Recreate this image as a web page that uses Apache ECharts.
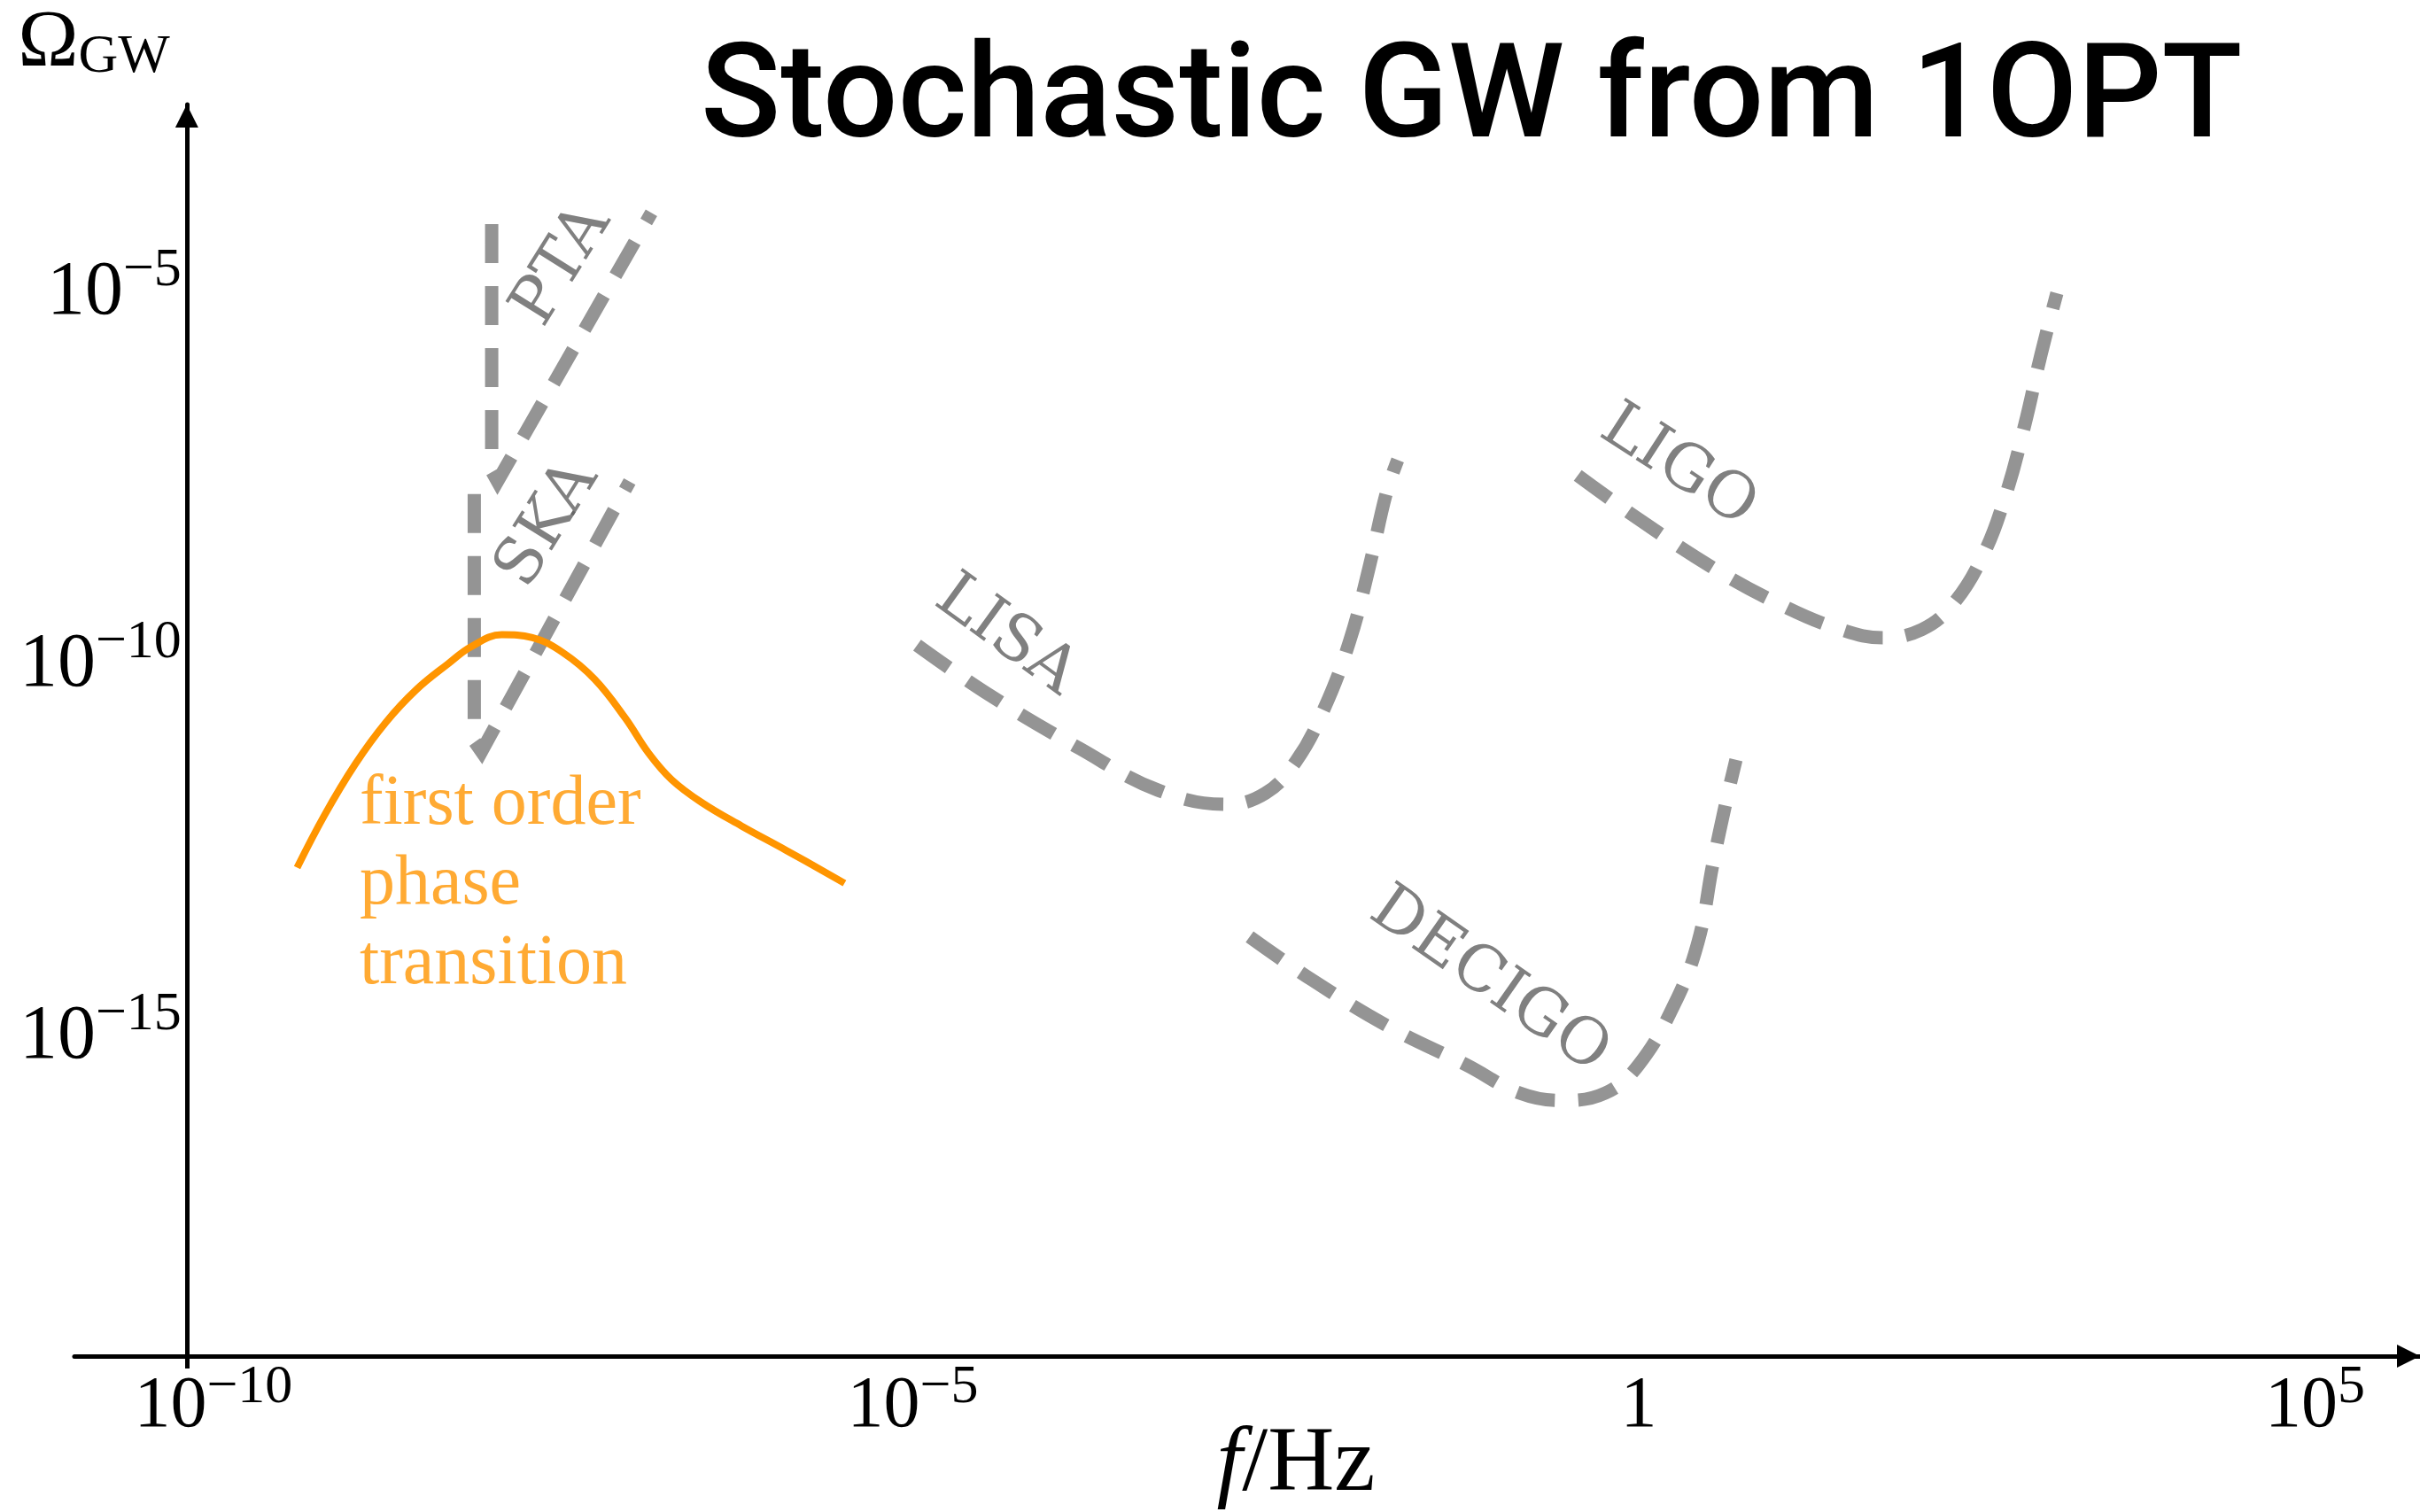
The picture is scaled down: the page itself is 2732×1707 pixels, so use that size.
<!DOCTYPE html>
<html>
<head>
<meta charset="utf-8">
<title>Stochastic GW from 1OPT</title>
<script src="https://cdn.jsdelivr.net/npm/echarts@6/dist/echarts.min.js"></script>
<style>
  html, body { margin: 0; padding: 0; background: #ffffff; }
  #chart { width: 2732px; height: 1707px; }
</style>
</head>
<body>
<div id="chart"></div>
<script>
// All values are base-10 exponents: log10(f / Hz) on x, log10(Omega_GW) on y.
const xTickExponents = [-10, -5, 0, 5];
const yTickExponents = [-5, -10, -15];

// Signal from a first-order phase transition
const foptLogF = [-9.24, -9.05, -8.84, -8.63, -8.42, -8.20, -8.04, -7.83, -7.62, -7.41, -7.19, -6.98, -6.82, -6.66, -6.45, -6.18, -5.87, -5.47];
const foptLogOmega = [-12.72, -12.01, -11.33, -10.77, -10.33, -9.98, -9.75, -9.59, -9.63, -9.83, -10.19, -10.71, -11.18, -11.54, -11.85, -12.16, -12.49, -12.93];

// Detector sensitivity curves
const ptaLogF = [-7.90, -7.90, -7.86, -6.80];
const ptaLogOmega = [-4.07, -7.39, -7.53, -3.92];

const skaLogF = [-8.02, -8.02, -7.97, -6.95];
const skaLogOmega = [-7.70, -11.02, -11.16, -7.53];

const lisaLogF = [-4.97, -4.48, -3.85, -3.31, -2.84, -2.57, -2.36, -2.17, -1.99, -1.85, -1.74, -1.66];
const lisaLogOmega = [-9.73, -10.39, -11.12, -11.68, -11.87, -11.72, -11.29, -10.60, -9.67, -8.63, -7.70, -7.24];

const ligoLogF = [-0.42, -0.02, 0.51, 0.94, 1.36, 1.68, 1.95, 2.16, 2.37, 2.53, 2.66, 2.77, 2.88];
const ligoLogOmega = [-7.45, -8.01, -8.69, -9.15, -9.50, -9.63, -9.52, -9.19, -8.53, -7.70, -6.76, -5.83, -5.00];

const decigoLogF = [-2.68, -2.25, -1.72, -1.19, -0.82, -0.53, -0.23, 0.00, 0.25, 0.41, 0.51, 0.60, 0.67];
const decigoLogOmega = [-13.65, -14.23, -14.86, -15.37, -15.75, -15.85, -15.75, -15.37, -14.54, -13.71, -12.68, -11.85, -11.27];

// Detector names and where their captions sit (in the same exponent units)
const detectorNames = ['PTA', 'SKA', 'LISA', 'LIGO', 'DECIGO'];
const detectorLabelLogF = [-7.41, -7.51, -4.36, 0.27, -1.03];
const detectorLabelLogOmega = [-4.63, -8.11, -9.61, -7.34, -14.25];
const detectorLabelAngles = [58, 58, -36, -33, -35];

const signalCaption = 'first order\nphase\ntransition';
const signalCaptionAt = [-8.81, -12.95];

// Axis extents
const X_MIN = -10.774, X_MAX = 5.381;
const Y_MIN = -19.286, Y_MAX = -2.464;
const Y_AXIS_AT = -10;           // the vertical axis stands at f = 1e-10 Hz

const GRID = { left: 84, right: 0, top: 118, bottom: 176 };
const WIDTH = 2732;

const zip = (xs, ys) => xs.map((x, i) => [x, ys[i]]);

const SERIF = '"Liberation Serif", "Times New Roman", serif';
const ORANGE = '#ff9500';
const DASH_GREY = '#949494';
const LABEL_GREY = '#606060';

// "10" followed by a raised exponent; 10^0 is written as a plain 1
function powerLabel(v, isX) {
  if (v === 0) return '{one|1}';
  const exp = v < 0 ? '\u2212' + Math.abs(v) : String(v);
  if (isX && v === -10) return '{bl|10}{s|' + exp + '}';
  if (isX && v === 5) return '{b|10}{sr|' + exp + '}';
  return '{b|10}{s|' + exp + '}';
}

// The base token is taller than the exponent token; with the exponent
// top-aligned this lifts it above the base digits.
function tickRich(size, supSize, baseLine) {
  const base = { fontFamily: SERIF, fontSize: size, lineHeight: baseLine, color: '#000' };
  const sup = { fontFamily: SERIF, fontSize: supSize, lineHeight: supSize, verticalAlign: 'top', color: '#000' };
  return {
    b: base,
    one: base,
    bl: Object.assign({}, base, { padding: [0, 0, 0, 60] }),
    s: sup,
    sr: Object.assign({}, sup, { padding: [0, 112, 0, 0] })
  };
}

const pxPerDecadeX = (WIDTH - GRID.left - GRID.right) / (X_MAX - X_MIN);
const yAxisOffset = -(Y_AXIS_AT - X_MIN) * pxPerDecadeX;

function detectorLine(name, xs, ys, smooth) {
  return {
    name: name,
    type: 'line',
    data: zip(xs, ys),
    symbol: 'none',
    smooth: smooth ? 0.4 : false,
    silent: true,
    z: 2,
    lineStyle: { color: DASH_GREY, width: 15, type: [44, 26], cap: 'butt', join: 'miter' }
  };
}

const chart = echarts.init(document.getElementById('chart'), null, { renderer: 'canvas' });

chart.setOption({
  animation: false,
  backgroundColor: '#ffffff',
  title: {
    text: 'Stochastic GW from 1OPT',
    left: 786,
    top: 37,
    textStyle: {
      fontFamily: 'Roboto, "Liberation Sans", Arial, sans-serif',
      fontWeight: 500,
      fontSize: 149,
      lineHeight: 149,
      color: '#000'
    }
  },
  grid: Object.assign({ containLabel: false, outerBoundsMode: 'none' }, GRID),
  xAxis: {
    type: 'value',
    min: X_MIN,
    max: X_MAX,
    splitLine: { show: false },
    axisLine: {
      onZero: false,
      lineStyle: { color: '#000', width: 5 },
      symbol: ['none', 'triangle'],
      symbolSize: [26, 26],
      symbolOffset: [0, -13]
    },
    axisTick: { show: true, customValues: [Y_AXIS_AT], length: 14, lineStyle: { color: '#000', width: 5 } },
    axisLabel: {
      customValues: xTickExponents,
      margin: 5,
      hideOverlap: false,
      formatter: v => powerLabel(v, true),
      rich: tickRich(82, 62, 105)
    },
    name: '{i|f}{n|/Hz}',
    nameLocation: 'middle',
    nameGap: 72,
    nameMoveOverlap: false,
    nameTextStyle: {
      padding: [0, 0, 0, 110],
      rich: {
        i: { fontFamily: SERIF, fontStyle: 'italic', fontSize: 104, color: '#000' },
        n: { fontFamily: SERIF, fontSize: 104, color: '#000' }
      }
    }
  },
  yAxis: {
    type: 'value',
    min: Y_MIN,
    max: Y_MAX,
    offset: yAxisOffset,
    splitLine: { show: false },
    axisLine: {
      onZero: false,
      lineStyle: { color: '#000', width: 5 },
      symbol: ['none', 'triangle'],
      symbolSize: [26, 26],
      symbolOffset: [0, -13]
    },
    axisTick: { show: false },
    axisLabel: {
      customValues: yTickExponents,
      margin: 6,
      hideOverlap: false,
      formatter: v => powerLabel(v, false),
      rich: tickRich(86, 62, 112)
    },
    name: '{o|\u03A9}{g|GW}',
    nameLocation: 'end',
    nameGap: 22,
    nameMoveOverlap: false,
    nameTextStyle: {
      align: 'right',
      verticalAlign: 'bottom',
      padding: [0, 19, 0, 0],
      rich: {
        o: { fontFamily: SERIF, fontSize: 92, lineHeight: 100, verticalAlign: 'bottom', color: '#000' },
        g: { fontFamily: SERIF, fontSize: 62, lineHeight: 62, verticalAlign: 'bottom', color: '#000' }
      }
    }
  },
  series: [
    detectorLine('PTA', ptaLogF, ptaLogOmega, false),
    detectorLine('SKA', skaLogF, skaLogOmega, false),
    detectorLine('LISA', lisaLogF, lisaLogOmega, true),
    detectorLine('LIGO', ligoLogF, ligoLogOmega, true),
    detectorLine('DECIGO', decigoLogF, decigoLogOmega, true),
    {
      name: 'first order phase transition',
      type: 'line',
      data: zip(foptLogF, foptLogOmega),
      symbol: 'none',
      smooth: 0.4,
      silent: true,
      z: 3,
      lineStyle: { color: ORANGE, width: 8, cap: 'butt' }
    },
    {
      name: 'captions',
      type: 'scatter',
      silent: true,
      z: 4,
      symbolSize: 1,
      itemStyle: { color: 'rgba(0,0,0,0)' },
      label: {
        show: true,
        position: 'inside',
        fontFamily: '"DejaVu Serif", serif',
        fontWeight: 'normal',
        fontSize: 72,
        color: LABEL_GREY,
        formatter: p => p.name
      },
      data: detectorNames.map((n, i) => ({
        name: n,
        value: [detectorLabelLogF[i], detectorLabelLogOmega[i]],
        label: { rotate: detectorLabelAngles[i] }
      })).concat([{
        name: signalCaption,
        value: signalCaptionAt,
        label: {
          align: 'left',
          verticalAlign: 'middle',
          fontFamily: SERIF,
          fontWeight: 'normal',
          fontSize: 80,
          lineHeight: 90,
          color: ORANGE
        }
      }])
    }
  ]
});
</script>
</body>
</html>
